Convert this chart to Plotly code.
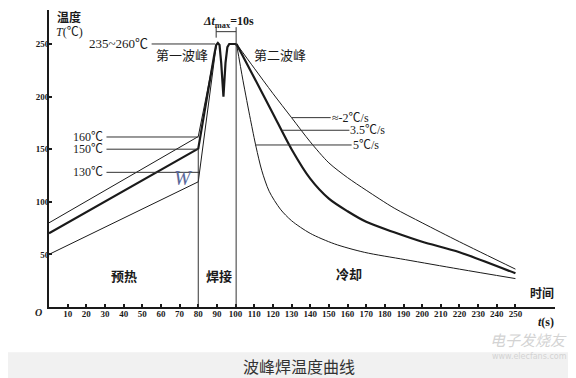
import plotly.graph_objects as go

# ---------------- data ----------------
# preheat + rise (time s, temperature C)
pre_upper_t = [0, 80, 89.5]
pre_upper_v = [80, 162, 247]
pre_main_t = [0, 80, 88.6, 89.6, 90.5, 91.4, 92.3, 93.5, 94.6, 95.6, 96.6, 100.0, 100.5]
pre_main_v = [70, 150.5, 240, 249, 251, 249, 232, 200, 232, 247, 250, 250, 249]
pre_lower_t = [0, 80, 89.5]
pre_lower_v = [50, 119, 247]

# cooling curves
cool_2_t = [100.5, 110, 120, 130, 140, 150, 160, 170, 185, 200, 220, 250]
cool_2_v = [250, 227, 203, 180, 157, 137, 123, 111, 94, 80, 62, 36]
cool_35_t = [100.5, 110, 120, 130, 140, 150, 160, 170, 185, 200, 220, 250]
cool_35_v = [250, 218, 184, 150, 122, 103, 91, 81, 71, 62, 52, 32]
cool_5_t = [100.5, 104, 108, 111, 114, 118, 124, 130, 140, 153, 169, 191, 220, 250]
cool_5_v = [250, 215, 178, 152, 130, 110, 93, 82, 70, 60, 52, 45, 36, 27]

x_ticks = list(range(10, 260, 10))
y_ticks = [50, 100, 150, 200, 250]

# annotations / guide lines
left_labels = ["160℃", "150℃", "130℃"]
left_label_v = [161.6, 150, 128]
left_label_end_t = [80.2, 79.6, 80.7]
rate_labels = ["≈-2℃/s", "3.5℃/s", "5℃/s"]
rate_label_v = [180, 168, 154]
rate_label_start_t = [130, 125, 110.4]
rate_label_text_t = [151.0, 161.0, 162.2]
phase_labels = ["预热", "焊接", "冷却"]
phase_label_t = [40.3, 91, 160.7]
phase_label_v = [30, 30, 32]
phase_bounds_t = [80, 100.3]
phase_bounds_top = [150, 266]

INK = "#1a1a1a"
SERIF = "Liberation Serif, Noto Sans CJK SC"
CJK = "Noto Sans CJK SC, Liberation Serif"

fig = go.Figure()

def line(t, v, w, shape="linear"):
    fig.add_trace(go.Scatter(x=t, y=v, mode="lines",
                             line=dict(color=INK, width=w, shape=shape, smoothing=0.8 if shape == "spline" else None),
                             hoverinfo="skip", showlegend=False))

line(pre_upper_t, pre_upper_v, 1)
line(pre_lower_t, pre_lower_v, 1)
line(pre_main_t, pre_main_v, 2.2)
line(cool_2_t, cool_2_v, 1, "spline")
line(cool_35_t, cool_35_v, 2.2, "spline")
line(cool_5_t, cool_5_v, 1, "spline")

shapes = []
for t, top in zip(phase_bounds_t, phase_bounds_top):
    shapes.append(dict(type="line", x0=t, x1=t, y0=0, y1=top, line=dict(color="#333", width=1)))
shapes.append(dict(type="line", x0=89.6, x1=100.3, y0=261.7, y1=261.7, line=dict(color="#333", width=1)))
shapes.append(dict(type="line", x0=89.6, x1=89.6, y0=256, y1=266, line=dict(color="#333", width=1)))
shapes.append(dict(type="line", x0=55, x1=89, y0=250, y1=250, line=dict(color="#333", width=1)))
for v, te in zip(left_label_v, left_label_end_t):
    shapes.append(dict(type="line", x0=30.8, x1=te, y0=v, y1=v, line=dict(color="#333", width=1)))
for v, ts, tt in zip(rate_label_v, rate_label_start_t, rate_label_text_t):
    shapes.append(dict(type="line", x0=ts, x1=tt, y0=v, y1=v, line=dict(color="#333", width=1)))
# caption band (paper coords; plot area 498 x 297 px)
shapes.append(dict(type="rect", xref="paper", yref="paper", x0=-0.2, x1=1.1, y0=-0.152, y1=-0.3,
                   fillcolor="#f1f1f1", line=dict(width=0), layer="below"))

ann = []
def txt(x, y, s, size=13, fam=SERIF, bold=False, color=INK, xanchor="center", italic=False, xref="x", yref="y"):
    ann.append(dict(x=x, y=y, xref=xref, yref=yref, text=s, showarrow=False, xanchor=xanchor, yanchor="middle",
                    borderpad=0,
                    font=dict(size=size, family=fam, color=color, weight="bold" if bold else "normal",
                              style="italic" if italic else "normal")))

for s, v in zip(left_labels, left_label_v):
    txt(20.7, v, s, 12)
for s, v, tt in zip(rate_labels, rate_label_v, rate_label_text_t):
    txt(tt, v, s, 12, xanchor="left")
for s, t, v in zip(phase_labels, phase_label_t, phase_label_v):
    txt(t, v, s, 13, fam=CJK, bold=True)
txt(37.3, 250, "235~260℃", 13)
txt(71.3, 240, "第一波峰", 13, fam=CJK)
txt(124, 240, "第二波峰", 13, fam=CJK)
txt(96.4, 271, "<i>Δt</i><sub>max</sub>=10s", 12, bold=True)
txt(10.6, 276, "温度", 12, fam=CJK, bold=True)
txt(10.9, 261, "<i>T</i>(℃)", 12)
txt(264.4, 13.5, "时间", 12, fam=CJK, bold=True)
txt(72, 123, "W", 20, fam="Liberation Serif", color="#5b6a9c", italic=True)
# outside-plot texts in paper coords
txt(-0.02, -0.02, "O", 10, bold=True, italic=True, xref="paper", yref="paper")
txt(0.982, -0.05, "<i>t</i>(s)", 12, bold=True, xref="paper", yref="paper")
txt(0.494, -0.198, "波峰焊温度曲线", 16, fam="Noto Sans CJK SC", color="#333", xref="paper", yref="paper")
txt(1.025, -0.11, "电子发烧友", 15, fam="Noto Sans CJK SC", color="#d3d3d3", xref="paper", yref="paper",
    italic=True, xanchor="right")
txt(1.025, -0.168, "www.elecfans.com", 8, fam="DejaVu Sans", color="#d3d3d3", xref="paper", yref="paper",
    xanchor="right")

# axis arrows
ann.append(dict(x=0, y=283.5, xref="x", yref="y", ax=0, ay=16, showarrow=True, arrowhead=2, arrowsize=1.2,
                arrowwidth=2, arrowcolor=INK, text=""))
ann.append(dict(x=272, y=0, xref="x", yref="y", ax=-16, ay=0, showarrow=True, arrowhead=2, arrowsize=1.2,
                arrowwidth=2, arrowcolor=INK, text=""))

# page body has an 8px margin, so the figure is 568x370 to fill the 576x378 window
fig.update_layout(
    width=568, height=370,
    margin=dict(l=41, r=21, t=2, b=71),
    paper_bgcolor="white", plot_bgcolor="white",
    shapes=shapes, annotations=ann,
    xaxis=dict(range=[0, 271.2], showline=True, linecolor=INK, linewidth=2, ticks="inside", ticklen=3,
               tickwidth=1.5, tickcolor=INK, tickvals=x_ticks, ticktext=[str(v) for v in x_ticks],
               tickfont=dict(size=9, family="Liberation Serif", color=INK, weight="bold"),
               ticklabelstandoff=-3, showgrid=False, zeroline=False, fixedrange=True),
    yaxis=dict(range=[0, 282.3], showline=True, linecolor=INK, linewidth=2, ticks="inside", ticklen=3,
               tickwidth=1.5, tickcolor=INK, tickvals=y_ticks, ticktext=[str(v) for v in y_ticks],
               tickfont=dict(size=9, family="Liberation Serif", color=INK, weight="bold"),
               ticklabelstandoff=-4, ticklabeloverflow="allow",
               showgrid=False, zeroline=False, fixedrange=True),
)

fig.write_html("out.html")
